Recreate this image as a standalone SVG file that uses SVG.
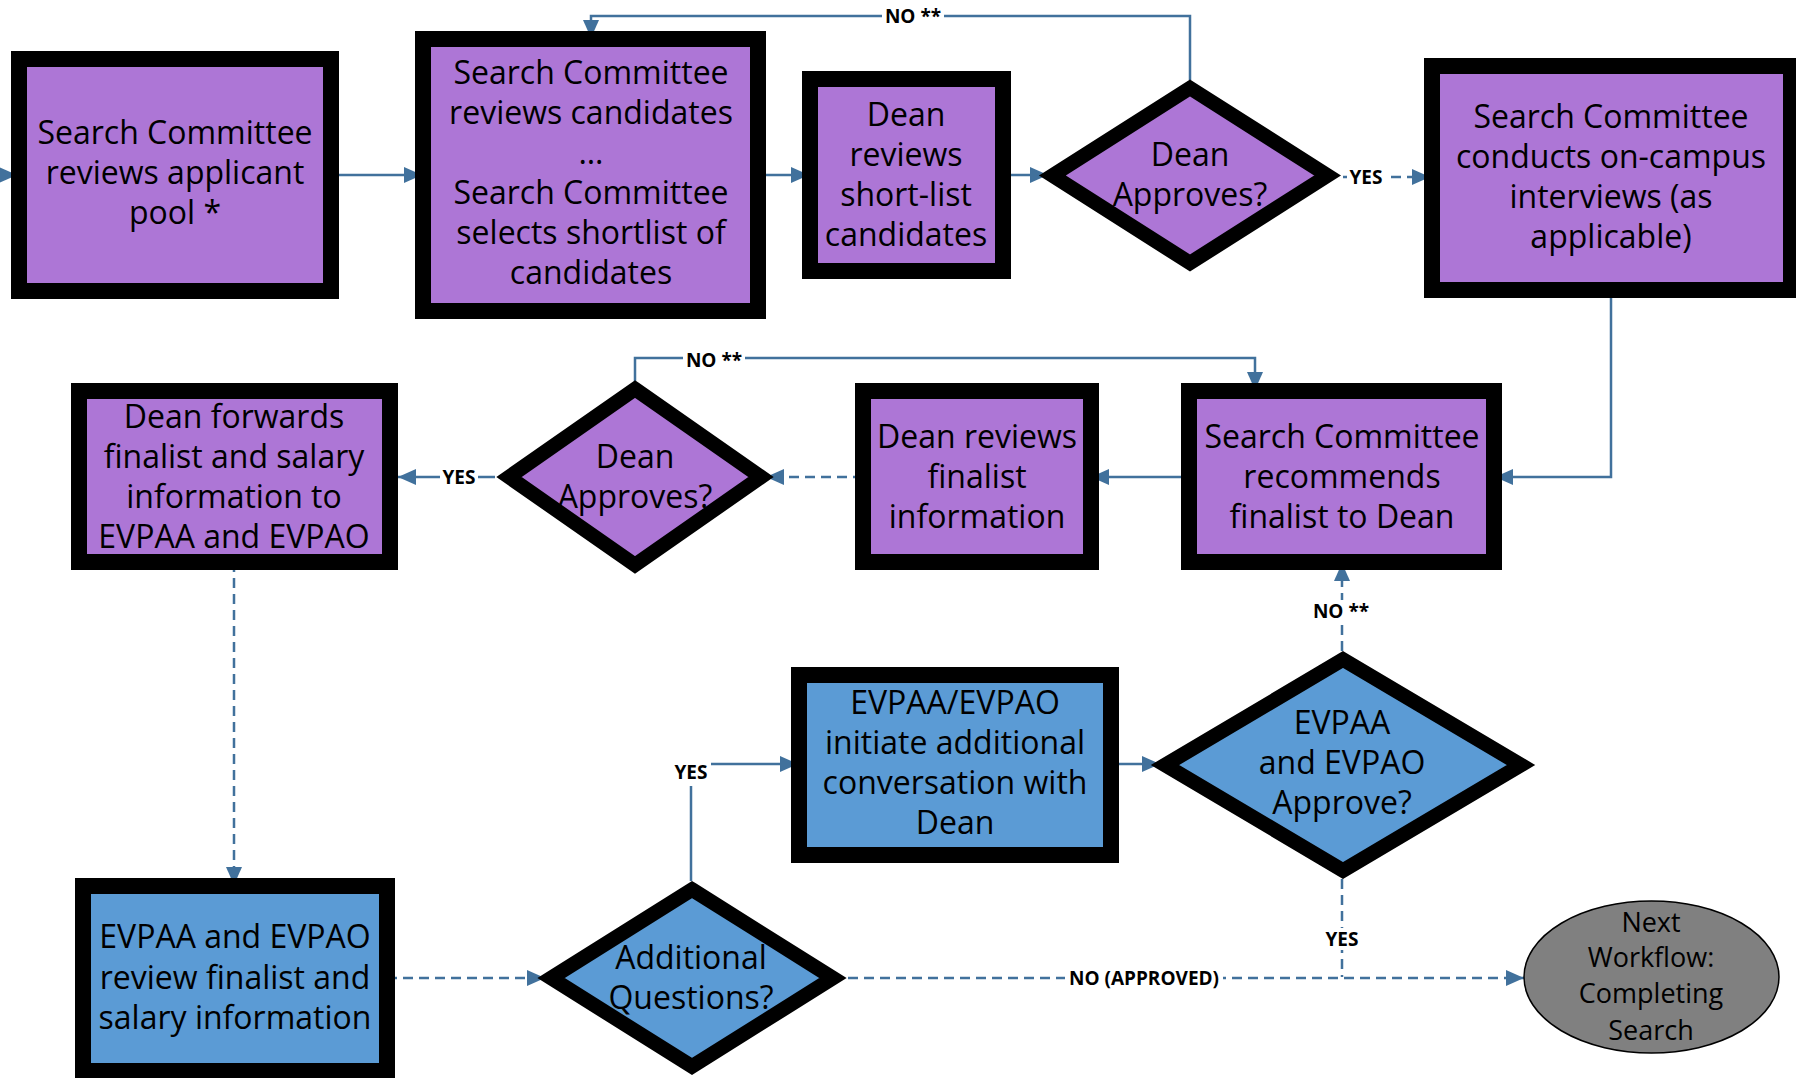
<svg xmlns="http://www.w3.org/2000/svg" width="1796" height="1078" viewBox="0 0 1796 1078">
<style>
.box{stroke:#000;stroke-width:16;}
.dia{stroke:#000;stroke-width:14.5;stroke-linejoin:miter;stroke-miterlimit:10;}
.p{fill:#AD76D6;}
.b{fill:#5B9BD5;}
.t{font-family:"Open Sans","Liberation Sans",sans-serif;font-size:32px;fill:#000;text-anchor:middle;}
.te{font-family:"Open Sans","Liberation Sans",sans-serif;font-size:27px;fill:#000;text-anchor:middle;}
.lbl{font-family:"Open Sans","Liberation Sans",sans-serif;font-size:19px;font-weight:bold;fill:#000;text-anchor:middle;}
.lbg{fill:#fff;}
.c{fill:none;stroke:#41719C;stroke-width:2.5;}
.d{stroke-dasharray:10 6;}
</style>
<defs>
<marker id="ah" markerUnits="userSpaceOnUse" markerWidth="18" markerHeight="16" refX="18" refY="8" orient="auto">
<path d="M0,0 L18,8 L0,16 z" fill="#41719C"/>
</marker>
</defs>
<rect width="1796" height="1078" fill="#fff"/>

<g id="connectors">
<path class="c" d="M0,175 H17" marker-end="url(#ah)"/>
<path class="c" d="M330,175 H422" marker-end="url(#ah)"/>
<path class="c" d="M758,175 H809" marker-end="url(#ah)"/>
<path class="c" d="M1002,175 H1048" marker-end="url(#ah)"/>
<path class="c" d="M1190,80 V16 H591 V38" marker-end="url(#ah)"/>
<path class="c d" d="M1343,177 H1430" marker-end="url(#ah)"/>
<path class="c" d="M1611,289 V477 H1495" marker-end="url(#ah)"/>
<path class="c" d="M1190,477 H1091" marker-end="url(#ah)"/>
<path class="c d" d="M863,477 H766" marker-end="url(#ah)"/>
<path class="c" d="M635,381 V358 H1255 V390" marker-end="url(#ah)"/>
<path class="c" d="M495,477 H398" marker-end="url(#ah)"/>
<path class="c d" d="M234,562 V885" marker-end="url(#ah)"/>
<path class="c d" d="M387,978 H545" marker-end="url(#ah)"/>
<path class="c" d="M691,881 V764 H798" marker-end="url(#ah)"/>
<path class="c" d="M1110,764 H1160" marker-end="url(#ah)"/>
<path class="c d" d="M1342,651 V563" marker-end="url(#ah)"/>
<path class="c d" d="M1342,879 V977"/>
<path class="c d" d="M848,978 H1524" marker-end="url(#ah)"/>
</g>

<g id="labels">
<g><rect class="lbg" x="882" y="7" width="62" height="20"/><text class="lbl" x="913" y="23">NO **</text></g>
<g><rect class="lbg" x="1347" y="167" width="38" height="20"/><text class="lbl" x="1366" y="184">YES</text></g>
<g><rect class="lbg" x="683" y="350" width="62" height="20"/><text class="lbl" x="714" y="367">NO **</text></g>
<g><rect class="lbg" x="440" y="467" width="38" height="20"/><text class="lbl" x="459" y="484">YES</text></g>
<g><rect class="lbg" x="671" y="759" width="40" height="27"/><text class="lbl" x="691" y="779">YES</text></g>
<g><rect class="lbg" x="1310" y="600" width="62" height="22"/><text class="lbl" x="1341" y="618">NO **</text></g>
<g><rect class="lbg" x="1323" y="928" width="38" height="22"/><text class="lbl" x="1342" y="946">YES</text></g>
<g><rect class="lbg" x="1065" y="968" width="158" height="20"/><text class="lbl" x="1144" y="985">NO (APPROVED)</text></g>
</g>

<g id="n1">
<rect class="box p" x="19" y="59" width="312" height="232"/>
<text class="t" x="175"><tspan x="175" y="144">Search Committee</tspan><tspan x="175" y="184">reviews applicant</tspan><tspan x="175" y="224">pool *</tspan></text>
</g>
<g id="n2">
<rect class="box p" x="423" y="39" width="335" height="272"/>
<text class="t"><tspan x="591" y="84">Search Committee</tspan><tspan x="591" y="124">reviews candidates</tspan><tspan x="591" y="164">…</tspan><tspan x="591" y="204">Search Committee</tspan><tspan x="591" y="244">selects shortlist of</tspan><tspan x="591" y="284">candidates</tspan></text>
</g>
<g id="n3">
<rect class="box p" x="810" y="79" width="193" height="192"/>
<text class="t"><tspan x="906" y="126">Dean</tspan><tspan x="906" y="166">reviews</tspan><tspan x="906" y="206">short-list</tspan><tspan x="906" y="246">candidates</tspan></text>
</g>
<g id="d1">
<polygon class="dia p" points="1190,88 1327.5,175.5 1190,263 1052.5,175.5"/>
<text class="t"><tspan x="1190" y="166">Dean</tspan><tspan x="1190" y="206">Approves?</tspan></text>
</g>
<g id="n4">
<rect class="box p" x="1432" y="66" width="359" height="224"/>
<text class="t"><tspan x="1611" y="128">Search Committee</tspan><tspan x="1611" y="168">conducts on-campus</tspan><tspan x="1611" y="208">interviews (as</tspan><tspan x="1611" y="248">applicable)</tspan></text>
</g>
<g id="n7">
<rect class="box p" x="1189" y="391" width="305" height="171"/>
<text class="t"><tspan x="1342" y="448">Search Committee</tspan><tspan x="1342" y="488">recommends</tspan><tspan x="1342" y="528">finalist to Dean</tspan></text>
</g>
<g id="n6">
<rect class="box p" x="863" y="391" width="228" height="171"/>
<text class="t"><tspan x="977" y="448">Dean reviews</tspan><tspan x="977" y="488">finalist</tspan><tspan x="977" y="528">information</tspan></text>
</g>
<g id="d2">
<polygon class="dia p" points="635,389 761,477 635,565 509,477"/>
<text class="t"><tspan x="635" y="468">Dean</tspan><tspan x="635" y="508">Approves?</tspan></text>
</g>
<g id="n5">
<rect class="box p" x="79" y="391" width="311" height="171"/>
<text class="t"><tspan x="234" y="428">Dean forwards</tspan><tspan x="234" y="468">finalist and salary</tspan><tspan x="234" y="508">information to</tspan><tspan x="234" y="548">EVPAA and EVPAO</tspan></text>
</g>
<g id="n8">
<rect class="box b" x="83" y="886" width="304" height="185"/>
<text class="t"><tspan x="235" y="948">EVPAA and EVPAO</tspan><tspan x="235" y="989">review finalist and</tspan><tspan x="235" y="1029">salary information</tspan></text>
</g>
<g id="d3">
<polygon class="dia b" points="692,889.5 833,978 692,1066.5 551,978"/>
<text class="t"><tspan x="691" y="969">Additional</tspan><tspan x="691" y="1009">Questions?</tspan></text>
</g>
<g id="n9">
<rect class="box b" x="799" y="675" width="312" height="180"/>
<text class="t"><tspan x="955" y="714">EVPAA/EVPAO</tspan><tspan x="955" y="754">initiate additional</tspan><tspan x="955" y="794">conversation with</tspan><tspan x="955" y="834">Dean</tspan></text>
</g>
<g id="d4">
<polygon class="dia b" points="1343,659.5 1521,765 1343,870.5 1165,765"/>
<text class="t"><tspan x="1342" y="734">EVPAA</tspan><tspan x="1342" y="774">and EVPAO</tspan><tspan x="1342" y="814">Approve?</tspan></text>
</g>
<g id="e1">
<ellipse cx="1651.5" cy="977" rx="127.5" ry="76" fill="#808080" stroke="#000" stroke-width="1.5"/>
<text class="te"><tspan x="1651" y="932">Next</tspan><tspan x="1651" y="967">Workflow:</tspan><tspan x="1651" y="1003">Completing</tspan><tspan x="1651" y="1040">Search</tspan></text>
</g>
</svg>
